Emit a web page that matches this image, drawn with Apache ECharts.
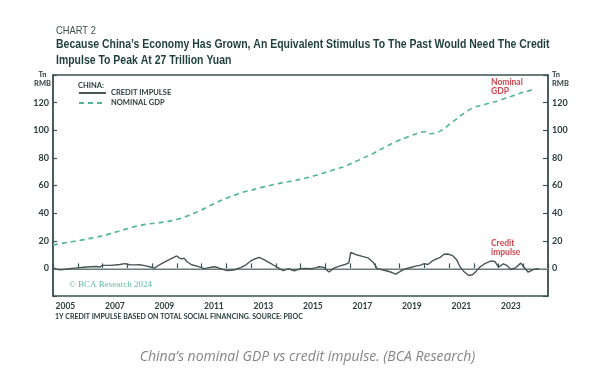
<!DOCTYPE html>
<html>
<head>
<meta charset="utf-8">
<script src="https://cdn.jsdelivr.net/npm/echarts@6/dist/echarts.min.js"></script>
<style>
html,body{margin:0;padding:0;background:#fff;}
#c{width:615px;height:373px;}
</style>
</head>
<body>
<div id="c"></div>
<script>
// ---- data ----
var yearLabels = ['2005','2006','2007','2008','2009','2010','2011','2012','2013','2014','2015','2016','2017','2018','2019','2020','2021','2022','2023','2024'];
var yTicks = [0, 20, 40, 60, 80, 100, 120];

var gdpYears = [2005.0,2005.25,2005.5,2005.75,2006.0,2006.25,2006.5,2006.75,2007.0,2007.25,2007.5,2007.75,
  2008.0,2008.25,2008.5,2008.75,2009.0,2009.25,2009.5,2009.75,2010.0,2010.25,2010.5,2010.75,
  2011.0,2011.25,2011.5,2011.75,2012.0,2012.25,2012.5,2012.75,2013.0,2013.25,2013.5,2013.75,
  2014.0,2014.25,2014.5,2014.75,2015.0,2015.25,2015.5,2015.75,2016.0,2016.25,2016.5,2016.75,
  2017.0,2017.25,2017.5,2017.75,2018.0,2018.25,2018.5,2018.75,2019.0,2019.25,2019.5,2019.75,
  2020.0,2020.25,2020.5,2020.75,2021.0,2021.25,2021.5,2021.75,2022.0,2022.25,2022.5,2022.75,
  2023.0,2023.25,2023.5,2023.75,2024.0,2024.25,2024.35];
var gdpValues = [17.0,17.7,18.5,19.3,20.0,20.8,21.7,22.6,23.6,24.8,26.1,27.4,
  28.7,30.0,31.0,31.9,32.5,33.0,33.6,34.4,35.4,36.8,38.5,40.3,
  42.3,44.6,46.8,48.9,50.8,52.5,54.0,55.5,56.5,57.8,59.0,60.0,
  61.0,61.9,62.7,63.6,64.5,65.6,66.8,68.0,69.4,70.9,72.3,73.6,
  75.5,77.5,79.6,81.6,83.8,86.2,88.5,90.8,92.9,94.6,96.2,97.8,
  98.9,97.5,98.3,100.5,104.0,107.5,111.0,114.0,116.5,117.8,119.0,120.2,
  121.3,123.0,124.5,126.0,127.5,128.7,129.2];

var ciYears = [2005.0,2005.15,2005.3,2005.5,2005.75,2006.0,2006.25,2006.5,2006.75,2006.9,2007.0,2007.3,2007.5,2007.7,2007.9,
  2008.1,2008.3,2008.5,2008.7,2008.9,2009.1,2009.3,2009.5,2009.7,2009.9,2010.0,2010.1,2010.2,2010.3,2010.4,2010.6,2010.85,
  2011.0,2011.12,2011.25,2011.5,2011.65,2011.8,2012.0,2012.2,2012.35,2012.6,2012.8,2013.0,2013.15,2013.33,2013.5,2013.7,2013.85,
  2014.07,2014.3,2014.5,2014.75,2015.0,2015.2,2015.4,2015.6,2015.76,2015.95,2016.15,2016.35,2016.6,2016.8,2016.95,
  2017.03,2017.1,2017.25,2017.5,2017.75,2017.95,2018.1,2018.3,2018.5,2018.7,2018.85,2019.05,2019.25,2019.45,2019.65,2019.85,
  2020.0,2020.15,2020.3,2020.45,2020.65,2020.8,2020.95,2021.15,2021.3,2021.45,2021.6,2021.8,2021.95,2022.1,2022.25,2022.45,
  2022.7,2022.85,2023.0,2023.2,2023.35,2023.5,2023.7,2023.9,2024.05,2024.2,2024.4,2024.55,2024.65];
var ciValues = [0.2,-0.6,-1.0,-0.6,0.0,0.4,0.8,1.2,1.4,1.0,2.2,2.2,2.4,2.8,3.4,
  2.6,2.5,2.6,2.0,1.2,0.2,2.6,4.5,6.3,8.2,9.0,7.6,6.8,7.4,5.0,2.6,1.4,
  0.6,-0.2,0.4,1.2,0.6,-0.4,-1.5,-1.4,-1.0,0.7,2.6,5.5,6.8,8.0,6.5,4.5,3.0,
  0.7,-1.6,-0.3,-1.7,-0.2,0.0,-0.3,0.4,1.2,0.7,-2.6,0.2,1.8,2.8,4.0,
  11.5,12.0,9.9,8.7,7.4,4.0,-0.2,-1.0,-1.9,-3.0,-4.2,-2.0,-0.2,0.6,1.6,2.4,
  3.4,2.8,5.0,6.5,8.0,10.2,10.4,9.2,6.5,1.0,-2.2,-5.2,-4.6,-2.0,1.0,3.5,
  5.4,5.0,1.0,3.2,2.0,-0.8,0.6,3.8,0.5,-2.8,-0.9,-0.2,-0.6];

function zip(xs, ys){ var o=[]; for(var i=0;i<xs.length;i++){o.push([xs[i],ys[i]]);} return o; }

var AX = '#3b5450';
var LBL = '#2b3d3a';
var TICKFONT = 'Lato';
var TITLEFONT = '"Liberation Sans",Arial,sans-serif';

var chart = echarts.init(document.getElementById('c'), null, {renderer:'canvas'});
function txt(text, x, y, size, color, weight, family, align, style, sx){
  return {type:'text', x:x, y:y, silent:true, z:10, scaleX:sx||1,
    style:{text:text, fill:color, font:(style||'normal')+' '+(weight||'normal')+' '+size+'px '+family,
      align:align||'left', textAlign:align||'left', verticalAlign:'middle', textVerticalAlign:'middle'}};
}
var option = {
  animation:false,
  backgroundColor:'#ffffff',
  grid:{left:53, right:67, top:75, bottom:77, show:true, borderColor:AX, borderWidth:1.5, backgroundColor:'transparent'},
  legend:{
    orient:'vertical', left:78, top:89, itemWidth:27, itemHeight:8, itemGap:2, padding:0,
    data:['CREDIT IMPULSE','NOMINAL GDP'],
    itemStyle:{opacity:0},
    textStyle:{fontFamily:TICKFONT, fontWeight:'bold', fontSize:7.5, color:LBL, padding:[3,0,0,0]}
  },
  xAxis:[
    {type:'category', data:yearLabels, boundaryGap:true, position:'bottom',
     axisLine:{show:true, lineStyle:{color:AX, width:1.5}},
     axisTick:{show:true, inside:true, length:5, interval:0, lineStyle:{color:AX, width:1.2}},
     axisLabel:{interval:1, color:LBL, fontFamily:TICKFONT, fontWeight:'bold', fontSize:8.5, margin:6},
     splitLine:{show:false}},
    {type:'value', min:2005, max:2025, show:false}
  ],
  yAxis:[
    {type:'value', min:-20, max:140, interval:20, position:'left',
     axisLine:{show:true, lineStyle:{color:AX, width:1.5}},
     axisTick:{show:true, inside:true, length:4, lineStyle:{color:AX, width:1.2}},
     axisLabel:{color:LBL, fontFamily:TICKFONT, fontWeight:'bold', fontSize:9, margin:4,
       formatter:function(v){return yTicks.indexOf(v)>=0 ? String(v) : '';}},
     splitLine:{show:false}},
    {type:'value', min:-20, max:140, interval:20, position:'right',
     axisLine:{show:true, lineStyle:{color:AX, width:1.5}},
     axisTick:{show:true, inside:true, length:5, lineStyle:{color:AX, width:1.2}},
     axisLabel:{color:LBL, fontFamily:TICKFONT, fontWeight:'bold', fontSize:9, margin:4,
       formatter:function(v){return yTicks.indexOf(v)>=0 ? String(v) : '';}},
     splitLine:{show:false}}
  ],
  series:[
    {name:'CREDIT IMPULSE', type:'line', xAxisIndex:1, yAxisIndex:0, data:zip(ciYears, ciValues),
     symbol:'none', smooth:false, lineStyle:{color:'#485551', width:1.4}, itemStyle:{color:'#485551'}, z:3,
     markLine:{silent:true, symbol:'none', label:{show:false}, lineStyle:{color:'#b3bcba', width:1, type:'solid'},
       data:[{yAxis:0}], z:1}},
    {name:'NOMINAL GDP', type:'line', xAxisIndex:1, yAxisIndex:0, data:zip(gdpYears, gdpValues),
     symbol:'none', smooth:true, lineStyle:{color:'#4fb592', width:1.6, type:[5,4]}, itemStyle:{color:'#4fb592'}, z:4}
  ],
  graphic:[
    txt('CHART 2', 56, 31, 11, '#3f4f4c', 'normal', TITLEFONT, 'left', 'normal', 0.85),
    txt('Because China\u2019s Economy Has Grown, An Equivalent Stimulus To The Past Would Need The Credit', 56, 44.5, 13, '#1f3f3a', 'bold', TITLEFONT, 'left', 'normal', 0.805),
    txt('Impulse To Peak At 27 Trillion Yuan', 56, 60, 13, '#1f3f3a', 'bold', TITLEFONT, 'left', 'normal', 0.805),
    txt('Tn', 42.5, 75, 7.5, LBL, 'bold', TICKFONT, 'center'),
    txt('RMB', 42.5, 84, 7.5, LBL, 'bold', TICKFONT, 'center'),
    txt('Tn', 552, 75, 7.5, LBL, 'bold', TICKFONT, 'left'),
    txt('RMB', 552, 84, 7.5, LBL, 'bold', TICKFONT, 'left'),
    txt('CHINA:', 78, 85.5, 7.5, LBL, 'bold', TICKFONT, 'left'),
    txt('Nominal', 491, 82.5, 8.5, '#d0464f', 'bold', TICKFONT, 'left'),
    txt('GDP', 491, 91, 8.5, '#d0464f', 'bold', TICKFONT, 'left'),
    txt('Credit', 491, 243.5, 8.5, '#d0464f', 'bold', TICKFONT, 'left'),
    txt('impulse', 491, 252, 8.5, '#d0464f', 'bold', TICKFONT, 'left'),
    txt('\u00a9 BCA Research 2024', 69, 284.5, 9, '#5fbba0', 'normal', '"Liberation Serif","DejaVu Serif",serif'),
    txt('1Y CREDIT IMPULSE BASED ON TOTAL SOCIAL FINANCING. SOURCE: PBOC', 55, 317, 7, LBL, 'bold', TICKFONT, 'left'),
    txt('China\u2019s nominal GDP vs credit impulse. (BCA Research)', 307.5, 357, 14, '#858585', 'normal', '"Open Sans",sans-serif', 'center', 'italic')
  ]
};
chart.setOption(option);
</script>
</body>
</html>
